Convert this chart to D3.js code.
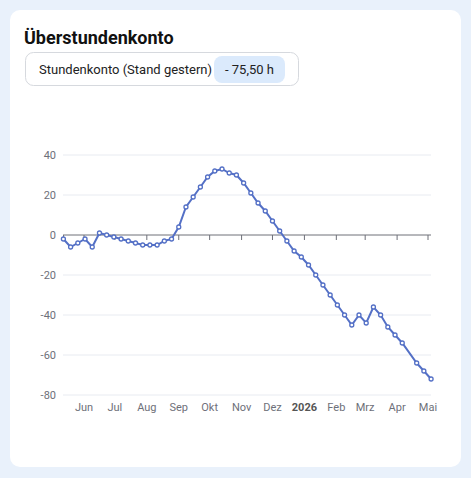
<!DOCTYPE html><html><head><meta charset="utf-8">
<script src="https://cdn.jsdelivr.net/npm/d3@7"></script>
<style>body{margin:0;background:#e9f1fb;font-family:Roboto,"Noto Sans",sans-serif}</style></head><body>
<svg id="c" width="471" height="478"></svg>
<script>
const startDate = "2025-05-12";
const values = [-2,-6,-4,-2,-6,1,0,-1,-2,-3,-4,-5,-5,-5,-3,-2,4,14,19,24,29,32,33,31,30,26,21,
 16,12,7,2,-3,-8,-11,-15,-20,-25,-30,-35,-40,-45,-40,-44,-36,-40,-46,-50,-54,null,-64,-68,-72];
const yTicks = [40,20,0,-20,-40,-60,-80];
const monthLabels = ["Jun","Jul","Aug","Sep","Okt","Nov","Dez","2026","Feb","Mrz","Apr","Mai"];
const title = "Überstundenkonto";
const kontoLabel = "Stundenkonto (Stand gestern)";
const kontoValue = "- 75,50 h";

const svg = d3.select("#c");
svg.append("rect").attr("x",10).attr("y",10).attr("width",451).attr("height",457).attr("rx",10).attr("fill","#fff");
svg.append("text").attr("x",24).attr("y",44).text(title).attr("font-size",18).attr("font-weight",700).attr("fill","#111");
svg.append("rect").attr("x",25.5).attr("y",52.5).attr("width",273).attr("height",33).attr("rx",8).attr("fill","#fff").attr("stroke","#d6d9de");
svg.append("text").attr("x",39).attr("y",74).text(kontoLabel).attr("font-size",13).attr("fill","#222");
svg.append("rect").attr("x",214).attr("y",56).attr("width",71).attr("height",27).attr("rx",8).attr("fill","#dbeafc");
svg.append("text").attr("x",249.5).attr("y",74).attr("text-anchor","middle").text(kontoValue).attr("font-size",13).attr("fill","#222");

const t0 = new Date(startDate+"T00:00:00");
const data = values.map((v,i)=>({d:d3.timeDay.offset(t0,i*7),v}));
const x = d3.scaleTime().domain([new Date("2025-06-01T00:00:00"),new Date("2026-05-01T00:00:00")]).range([84,428]);
const y = d3.scaleLinear().domain([-80,40]).range([395,155]);
const L=63,R=431;
const g = svg.append("g");
yTicks.forEach(t=>{
  if(t!==0) g.append("line").attr("x1",L).attr("x2",R).attr("y1",y(t)).attr("y2",y(t)).attr("stroke","#e8ebf1");
  g.append("text").attr("x",56).attr("y",y(t)+4).attr("text-anchor","end").attr("font-size",11).attr("fill","#6e7079").text(t);
});
g.append("line").attr("x1",L).attr("x2",R).attr("y1",y(0)).attr("y2",y(0)).attr("stroke","#6e7079");
const months = d3.timeMonth.range(new Date("2025-06-01T00:00:00"),new Date("2026-05-02T00:00:00"));
g.append("line").attr("x1",L+0.5).attr("x2",L+0.5).attr("y1",y(0)).attr("y2",y(0)+5).attr("stroke","#6e7079");
months.forEach((m,i)=>{
  g.append("line").attr("x1",x(m)).attr("x2",x(m)).attr("y1",y(0)).attr("y2",y(0)+5).attr("stroke","#6e7079");
  g.append("text").attr("x",x(m)).attr("y",411).attr("text-anchor","middle").attr("font-size",11)
   .attr("font-weight",monthLabels[i]==="2026"?700:400).attr("fill",monthLabels[i]==="2026"?"#555":"#6e7079").text(monthLabels[i]);
});
const pts = data.filter(d=>d.v!==null);
g.append("path").datum(pts).attr("d",d3.line().x(d=>x(d.d)).y(d=>y(d.v))).attr("fill","none").attr("stroke","#5470c6").attr("stroke-width",2);
g.selectAll("circle").data(pts).join("circle").attr("cx",d=>x(d.d)).attr("cy",d=>y(d.v)).attr("r",2).attr("fill","#fff").attr("stroke","#5470c6").attr("stroke-width",1.3);
</script></body></html>
